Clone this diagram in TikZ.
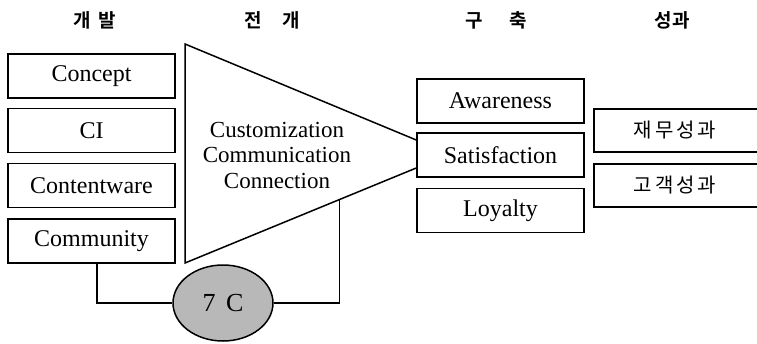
\documentclass[tikz,border=0pt]{standalone}
\usepackage{fontspec}
\setmainfont{Liberation Serif}
\newfontfamily\kr{Noto Sans CJK KR}
\newfontfamily\krb{Noto Sans CJK KR Bold}
\usetikzlibrary{calc,shapes.geometric}
\begin{document}
\begin{tikzpicture}[x=1pt,y=-1pt,
  line width=1.5pt,
  box/.style={draw, line width=1.5pt, minimum width=167pt, minimum height=44pt, inner sep=0pt, font=\fontsize{24}{26}\selectfont},
  head/.style={font=\krb\fontsize{19}{21}\selectfont, inner sep=0pt},
  krbox/.style={font=\kr\fontsize{20}{22}\selectfont, inner sep=0pt}]
\useasboundingbox (0,0) rectangle (757,343);
% headers
\node[head] (h1) at (95,20) {개\hspace{0.4em}발};
\node[head] (h2) at (272,20) {전\hspace{1.1em}개};
\node[head] (h3) at (496,20) {구\hspace{1.4em}축};
\node[head] (h4) at (672,20) {성과};
% left boxes
\node[box] (concept) at (91.5,76) {Concept};
\node[box] (ci) at (91.5,130.5) {CI};
\node[box] (content) at (91.5,185.5) {Contentware};
\node[box] (community) at (91.5,241) {Community};
% middle boxes
\node[box] (aware) at (500.5,101) {Awareness};
\node[box] (satis) at (500.5,155) {Satisfaction};
\node[box] (loyal) at (500.5,210.5) {Loyalty};
% triangle
\coordinate (ttop) at (185,44);
\coordinate (tbot) at (185,263);
\coordinate (tr1) at (satis.west |- 0,140);
\coordinate (tr2) at (satis.west |- 0,168);
\draw[line join=miter] (tr1) -- (ttop) -- (tbot) -- (tr2);
\node[font=\fontsize{23}{25.5}\selectfont, align=center, inner sep=0pt] (tri) at (277,155) {Customization\\Communication\\Connection};
% right open boxes
\coordinate (r1tl) at (594,109);
\coordinate (r1bl) at (594,152);
\coordinate (r2tl) at (594,164);
\coordinate (r2bl) at (594,207);
\draw (757,109) -- (r1tl) -- (r1bl) -- (757,152);
\draw (757,164) -- (r2tl) -- (r2bl) -- (757,207);
\node[krbox] (fin) at (675,130.5) {재\hspace{0.15em}무\hspace{0.15em}성\hspace{0.15em}과};
\node[krbox] (cust) at (675,185.5) {고\hspace{0.15em}객\hspace{0.15em}성\hspace{0.15em}과};
% 7C ellipse
\node[draw, ellipse, fill=black!28, minimum width=100pt, minimum height=76pt, inner sep=0pt, font=\fontsize{26}{28}\selectfont, line width=1.5pt] (sevenc) at (223,303) {7\hspace{0.4em}C};
% connectors
\coordinate (tpt) at ($(tbot)!0.668!(tr2)$);
\draw (community.south -| 97,0) |- (sevenc.west);
\draw (tpt) |- (sevenc.east);
\end{tikzpicture}
\end{document}
